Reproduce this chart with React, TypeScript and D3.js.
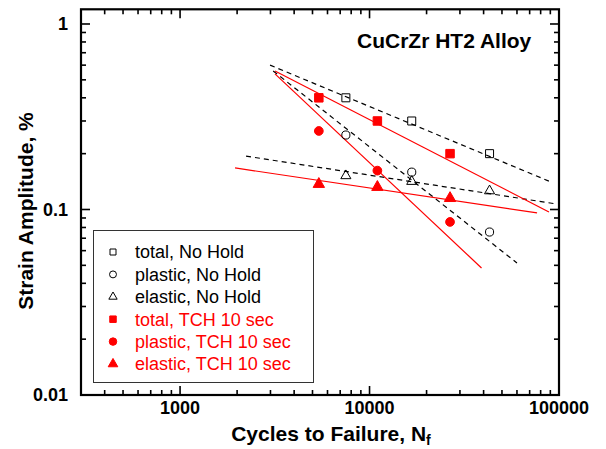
import React from "react";
import * as d3 from "d3";

const W = 606;
const H = 449;

// cycles to failure for the two test sets
const cyclesNoHold = [7500, 16700, 43000];
const cyclesTCH = [5400, 11000, 26600];

// strain amplitude, %
const totalNoHold = [0.4, 0.3, 0.2];
const plasticNoHold = [0.252, 0.159, 0.0756];
const elasticNoHold = [0.152, 0.1416, 0.126];
const totalTCH = [0.4, 0.3, 0.2];
const plasticTCH = [0.265, 0.162, 0.0857];
const elasticTCH = [0.137, 0.132, 0.115];

// fitted lines, [cycles, strain] at both ends
const fitTotalNoHold = [[2985, 0.6], [91800, 0.14]];
const fitPlasticNoHold = [[3100, 0.558], [60000, 0.0515]];
const fitElasticNoHold = [[2230, 0.194], [97500, 0.107]];
const fitTotalTCH = [[3170, 0.558], [88500, 0.097]];
const fitPlasticTCH = [[3170, 0.538], [39000, 0.0484]];
const fitElasticTCH = [[1950, 0.1675], [76600, 0.0958]];

const xMajor = [1000, 10000, 100000];
const yMajor = [0.01, 0.1, 1];
const xLabels = ["1000", "10000", "100000"];
const yLabels = ["0.01", "0.1", "1"];

const legendLabels = [
  "total, No Hold",
  "plastic, No Hold",
  "elastic, No Hold",
  "total, TCH 10 sec",
  "plastic, TCH 10 sec",
  "elastic, TCH 10 sec",
];

const RED = "#ff0000";
const FONT = "'Liberation Sans', Arial, Helvetica, sans-serif";

export default function App() {
  const x = d3.scaleLog().domain([300, 100000]).range([81, 559]);
  const y = d3.scaleLog().domain([0.01, 1.2]).range([395, 9.3]);
  const [x0, x1] = x.range();
  const [y0, y1] = y.range();

  const line = d3
    .line<number[]>()
    .x((d) => x(d[0]))
    .y((d) => y(d[1]));

  const isMajor = (v: number) => Math.abs(Math.log10(v) - Math.round(Math.log10(v))) < 1e-6;
  const xTicks = x.ticks().filter((v) => v > 300 && v < 100000);
  const yTicks = y.ticks().filter((v) => v > 0.01 && v <= 1);

  const sym = (type: d3.SymbolType, size: number) => d3.symbol().type(type).size(size)() || "";

  const series = [
    { xs: cyclesNoHold, ys: totalNoHold, type: d3.symbolSquare, size: 64, lsize: 36, fill: "none", stroke: "#000" },
    { xs: cyclesNoHold, ys: plasticNoHold, type: d3.symbolCircle, size: 52, lsize: 38, fill: "none", stroke: "#000" },
    { xs: cyclesNoHold, ys: elasticNoHold, type: d3.symbolTriangle, size: 44, lsize: 30, fill: "none", stroke: "#000" },
    { xs: cyclesTCH, ys: totalTCH, type: d3.symbolSquare, size: 72, lsize: 42, fill: RED, stroke: RED },
    { xs: cyclesTCH, ys: plasticTCH, type: d3.symbolCircle, size: 60, lsize: 44, fill: RED, stroke: RED },
    { xs: cyclesTCH, ys: elasticTCH, type: d3.symbolTriangle, size: 56, lsize: 40, fill: RED, stroke: RED },
  ];

  const fits = [
    { pts: fitTotalNoHold, color: "#000", dash: "5,4" },
    { pts: fitPlasticNoHold, color: "#000", dash: "5,4" },
    { pts: fitElasticNoHold, color: "#000", dash: "5,4" },
    { pts: fitTotalTCH, color: RED, dash: undefined },
    { pts: fitPlasticTCH, color: RED, dash: undefined },
    { pts: fitElasticTCH, color: RED, dash: undefined },
  ];

  return (
    <div style={{ position: "absolute", left: 0, top: 0 }}>
      <svg width={W} height={H} style={{ display: "block", background: "#fff" }} fontFamily={FONT}>
        {/* fit lines */}
        {fits.map((f, i) => (
          <path key={"f" + i} d={line(f.pts) || ""} fill="none" stroke={f.color} strokeWidth={1.2} strokeDasharray={f.dash} />
        ))}

        {/* data points */}
        {series.map((s, i) =>
          s.xs.map((c, j) => (
            <path
              key={"p" + i + "-" + j}
              d={sym(s.type, s.size)}
              transform={`translate(${x(c)},${y(s.ys[j])})`}
              fill={s.fill}
              stroke={s.stroke}
              strokeWidth={1}
            />
          ))
        )}

        {/* frame with inward ticks on every side */}
        <g stroke="#000" strokeWidth={1.6}>
          {xTicks.map((v) => {
            const len = isMajor(v) ? 9 : 5;
            return (
              <g key={"xt" + v}>
                <line x1={x(v)} x2={x(v)} y1={y0} y2={y0 - len} />
                <line x1={x(v)} x2={x(v)} y1={y1} y2={y1 + len} />
              </g>
            );
          })}
          {yTicks.map((v) => {
            const len = isMajor(v) ? 9 : 5;
            return (
              <g key={"yt" + v}>
                <line x1={x0} x2={x0 + len} y1={y(v)} y2={y(v)} />
                <line x1={x1} x2={x1 - len} y1={y(v)} y2={y(v)} />
              </g>
            );
          })}
        </g>
        <rect x={x0} y={y1} width={x1 - x0} height={y0 - y1} fill="none" stroke="#000" strokeWidth={2.2} />

        {/* tick labels */}
        {xMajor.map((v, i) => (
          <text key={"xl" + v} x={x(v)} y={414} textAnchor="middle" fontSize={18} fontWeight="bold">
            {xLabels[i]}
          </text>
        ))}
        {yMajor.map((v, i) => (
          <text key={"yl" + v} x={68} y={y(v)} dy="0.36em" textAnchor="end" fontSize={18} fontWeight="bold">
            {yLabels[i]}
          </text>
        ))}

        {/* axis titles */}
        <text x={331} y={441} textAnchor="middle" fontSize={21} fontWeight="bold">
          Cycles to Failure, N<tspan fontSize={14} dy={4}>f</tspan>
        </text>
        <text transform="translate(33,211) rotate(-90)" textAnchor="middle" fontSize={21} fontWeight="bold">
          Strain Amplitude, %
        </text>

        {/* chart title */}
        <text x={357} y={48} fontSize={21} fontWeight="bold">
          CuCrZr HT2 Alloy
        </text>

        {/* legend */}
        <rect x={93.5} y={230.5} width={220} height={152} fill="#fff" stroke="#333" strokeWidth={1} />
        {series.map((s, i) => {
          const ry = 252 + i * 22.4;
          return (
            <g key={"lg" + i}>
              <path d={sym(s.type, s.lsize)} transform={`translate(113,${ry})`} fill={s.fill} stroke={s.stroke} strokeWidth={1} />
              <text x={135} y={ry} dy="0.36em" fontSize={18} fill={i < 3 ? "#000" : RED}>
                {legendLabels[i]}
              </text>
            </g>
          );
        })}
      </svg>
    </div>
  );
}
